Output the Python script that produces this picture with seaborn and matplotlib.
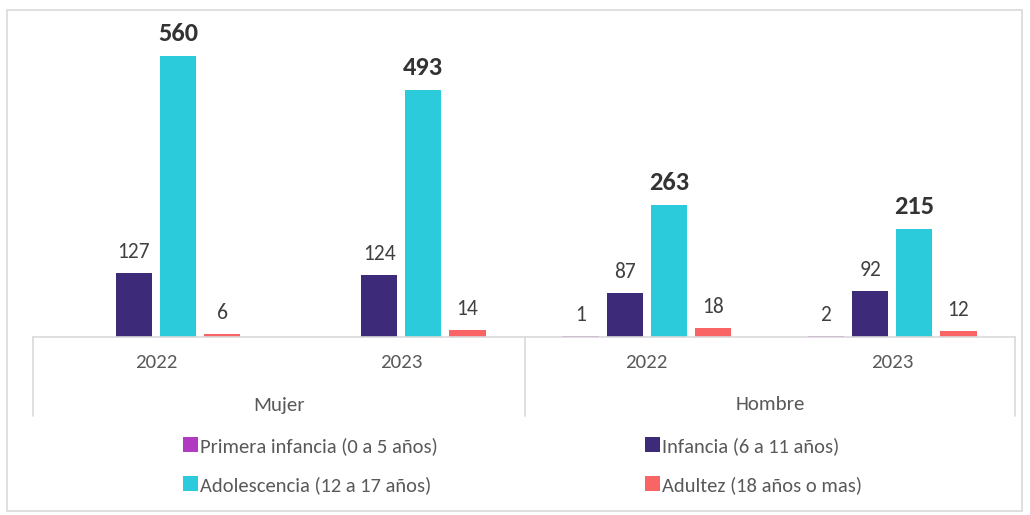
import numpy as np
import pandas as pd
import seaborn as sns
import matplotlib
matplotlib.use("Agg")
import matplotlib.pyplot as plt
from matplotlib.patches import Rectangle, Patch
from matplotlib.lines import Line2D
from matplotlib import font_manager

# ---------------- data ----------------
sexes = ["Mujer", "Hombre"]
years = ["2022", "2023"]
groups = ["Primera infancia (0 a 5 años)", "Infancia (6 a 11 años)",
          "Adolescencia (12 a 17 años)", "Adultez (18 años o mas)"]
primera_infancia = [np.nan, np.nan, 1, 2]
infancia = [127, 124, 87, 92]
adolescencia = [560, 493, 263, 215]
adultez = [6, 14, 18, 12]
colors = ["#B03AC0", "#3D2A78", "#2BCBDC", "#F96465"]

slots = [f"{s} {y}" for s in sexes for y in years]
series = [primera_infancia, infancia, adolescencia, adultez]
rows = []
for g, vals in zip(groups, series):
    for slot, v in zip(slots, vals):
        if not np.isnan(v):
            rows.append({"slot": slot, "group": g, "value": v})
df = pd.DataFrame(rows)

# ---------------- style ----------------
sns.set_style("white")
names = {f.name for f in font_manager.fontManager.ttflist}
cands = ["Carlito", "Calibri", "Liberation Sans Narrow", "Archivo Narrow", "Barlow Semi Condensed"]
fam = [c for c in cands if c in names][:1]
plt.rcParams["font.family"] = fam + ["DejaVu Sans"]

W, H = 1030, 515
fig = plt.figure(figsize=(W / 100, H / 100), dpi=100)
fig.patch.set_facecolor("white")

def fx(px):
    return px / W

def fy(py):
    return 1 - py / H

base_y, top_y = 337, 20
left_x, right_x = 33, 1015
ax = fig.add_axes([fx(left_x), fy(base_y), fx(right_x) - fx(left_x), (base_y - top_y) / H])
scale = 0.5018  # px per unit
ax.set_ylim(0, (base_y - top_y) / scale)

sns.barplot(data=df, x="slot", y="value", hue="group", order=slots,
            hue_order=groups, palette=colors, width=0.72, gap=0.18,
            ax=ax, legend=False, errorbar=None, saturation=1,
            edgecolor="none", linewidth=0)
ax.set_xlim(-0.5, 3.5)

# value labels
for gi, (container, vals) in enumerate(zip(ax.containers, series)):
    good = [v for v in vals if not np.isnan(v)]
    patches = [p for p in container.patches if not np.isnan(p.get_height())]
    for p, v in zip(patches, good):
        bold = gi == 2
        ax.annotate(f"{int(v)}", (p.get_x() + p.get_width() / 2, p.get_height()),
                    xytext=(0, 8 if not bold else 8), textcoords="offset points",
                    ha="center", va="bottom",
                    fontsize=15.5 if not bold else 19,
                    fontweight="bold" if bold else "normal",
                    color="#404040" if not bold else "#333333")

for sp in ax.spines.values():
    sp.set_visible(False)
ax.set_yticks([])
ax.set_xticks(range(4))
ax.set_xticklabels(years * 2, fontsize=15, color="#595959")
ax.tick_params(axis="x", length=0, pad=12)
ax.set_xlabel("")
ax.set_ylabel("")

# category axis lines
gc = "#D9D9D9"
fig.add_artist(Line2D([fx(left_x), fx(right_x)], [fy(base_y), fy(base_y)], color=gc, lw=1.2))
for xp in [left_x, 525, right_x]:
    fig.add_artist(Line2D([fx(xp), fx(xp)], [fy(base_y), fy(416)], color=gc, lw=1.2))
for s, xc in zip(sexes, [(left_x + 525) / 2, (525 + right_x) / 2]):
    fig.text(fx(xc), fy(405), s, ha="center", va="center", fontsize=15, color="#595959")

# outer frame
fig.add_artist(Rectangle((fx(7), fy(511)), fx(1022) - fx(7), fy(10) - fy(511),
                         fill=False, edgecolor="#D9D9D9", lw=1.2))

# legend (two columns)
h = [Patch(facecolor=c, edgecolor="none") for c in colors]
common = dict(loc="upper left", frameon=False, fontsize=14.8, labelcolor="#595959",
              handlelength=0.73, handleheight=0.73, handletextpad=0.12,
              labelspacing=1.02, borderaxespad=0, borderpad=0)
fig.legend([h[0], h[2]], [groups[0], groups[2]], bbox_to_anchor=(fx(183), fy(437)), **common)
fig.legend([h[1], h[3]], [groups[1], groups[3]], bbox_to_anchor=(fx(645), fy(437)), **common)

fig.savefig("out.png", dpi=100, facecolor="white")
